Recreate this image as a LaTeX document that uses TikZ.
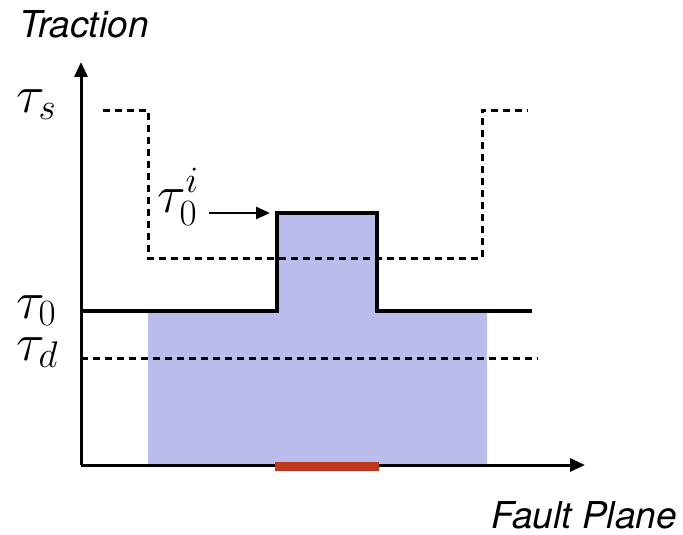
\documentclass[tikz,border=0pt]{standalone}
\usepackage{fix-cm}
\usepackage{fontspec}
\setsansfont{TeX Gyre Heros}
\usepackage{tikz}
\usetikzlibrary{arrows.meta, positioning, calc}
\definecolor{slipFill}{RGB}{186,189,235}
\definecolor{patchRed}{RGB}{190,55,30}

\begin{document}
\begin{tikzpicture}[
    x=1pt, y=-1pt,
    axis/.style={line width=3pt, -{Triangle[length=15pt, width=13pt]}},
    level/.style={line width=3pt, dash pattern=on 7pt off 5pt},
    prestress/.style={line width=4.6pt},
    ptr/.style={line width=2.8pt, -{Triangle[length=14pt, width=12pt]}},
    sym/.style={inner sep=0pt, font=\fontsize{53}{60}\selectfont},
    axlabel/.style={inner sep=0pt, font=\fontsize{37}{42}\selectfont\sffamily\itshape}
]
\useasboundingbox (0,0) rectangle (683,535);

% Axes corners
\coordinate (origin) at (81,465);
\coordinate (ytop) at (81,62);
\coordinate (xend) at (585,465);

% Step corners
\coordinate (stepTL) at (277,213);
\coordinate (stepTR) at (377,213);

% Slipping region (fill)
\fill[slipFill] (148,465) -- (148,311) -- (277,311) -- (stepTL) -- (stepTR)
    -- (377,311) -- (487,311) -- (487,465) -- cycle;

% Dynamic level
\draw[level] (origin |- 0,358) -- (538,358);

% Static strength, weakened in the middle
\draw[level] (103,110) -- (148,110) -- (148,258) -- (482,258) -- (482,110) -- (528,110);

% Initial stress with the overstressed patch
\draw[prestress] (origin |- 0,311) -- (277,311) -- (stepTL) -- (stepTR) -- (377,311) -- (532,311);

% Axes
\draw[axis] (origin) -- (ytop);
\draw[axis] (origin) -- (xend);

% Nucleation patch
\draw[patchRed, line width=9pt] (275,466) -- (379,466);

% Labels
\node[axlabel, anchor=base west] (trac) at (19,38) {Traction};
\node[axlabel, anchor=base east] (fault) at (677,528) {Fault Plane};
\node[sym, anchor=base west] (taus) at (16,112) {$\tau_s$};
\node[sym, anchor=base west] (tauz) at (16,318) {$\tau_0$};
\node[sym, anchor=base west] (taud) at (16,360) {$\tau_d$};
\node[sym, anchor=base west] (tauzi) at (157,212) {$\tau_0^i$};

\draw[ptr, shorten <=10pt, shorten >=7pt] (tauzi.east |- stepTL) -- (stepTL);

\end{tikzpicture}
\end{document}
